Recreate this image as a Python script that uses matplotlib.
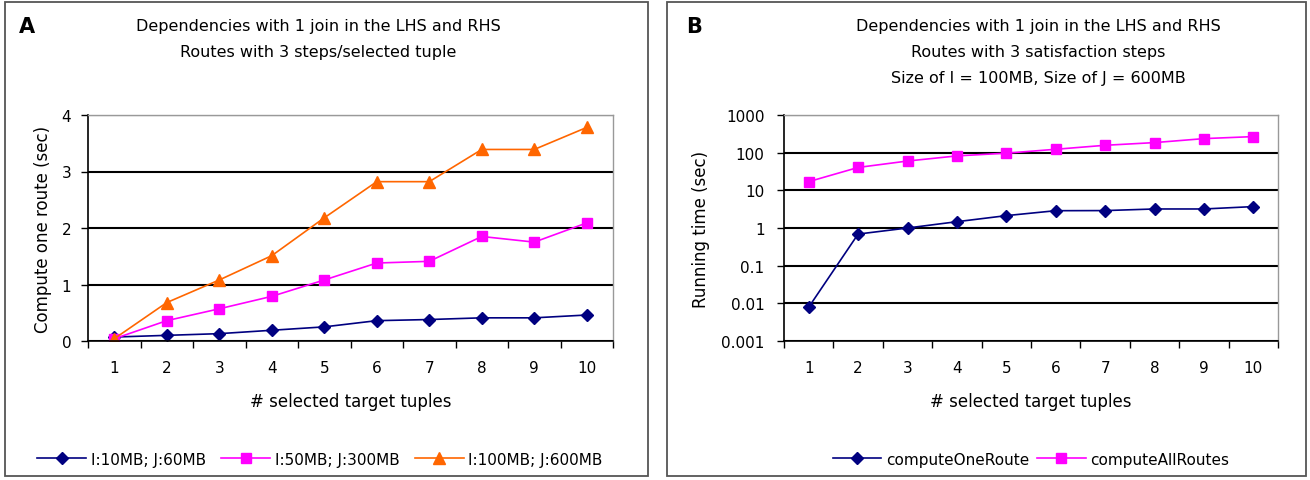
import matplotlib
matplotlib.use('Agg')
import matplotlib.pyplot as plt
from matplotlib.patches import Rectangle
from matplotlib.ticker import FixedLocator, NullLocator

plt.rcParams['font.family'] = ['DejaVu Sans']
plt.rcParams['font.size'] = 11

tuples = list(range(1, 11))

# panel A: compute one route (sec)
a_small = [0.07, 0.10, 0.13, 0.19, 0.25, 0.36, 0.38, 0.41, 0.41, 0.46]
a_medium = [0.04, 0.36, 0.57, 0.79, 1.08, 1.38, 1.41, 1.85, 1.75, 2.09]
a_large = [0.04, 0.68, 1.08, 1.51, 2.18, 2.82, 2.82, 3.39, 3.39, 3.78]
a_labels = ["I:10MB; J:60MB", "I:50MB; J:300MB", "I:100MB; J:600MB"]

# panel B: running time (sec), log scale
b_one = [0.0079, 0.69, 1.0, 1.47, 2.13, 2.88, 2.9, 3.2, 3.2, 3.7]
b_all = [17, 40.5, 60, 82, 97, 123, 157, 185, 236, 267]
b_labels = ["computeOneRoute", "computeAllRoutes"]

NAVY = '#000080'
MAGENTA = '#FF00FF'
ORANGE = '#FF6600'

W, H = 1310, 481
fig = plt.figure(figsize=(W / 100, H / 100), dpi=100)


def px(x0, y0, x1, y1):
    return [x0 / W, 1 - y1 / H, (x1 - x0) / W, (y1 - y0) / H]


def style_axes(ax, ypad):
    ax.set_xlim(0.5, 10.5)
    ax.xaxis.set_major_locator(FixedLocator(tuples))
    ax.xaxis.set_minor_locator(FixedLocator([i + 0.5 for i in range(0, 11)]))
    ax.tick_params(axis='x', which='major', length=0, pad=14, labelsize=11)
    ax.tick_params(axis='x', which='minor', length=5, width=1, direction='out')
    ax.tick_params(axis='y', which='major', length=5, width=1, direction='out',
                   pad=ypad, labelsize=11)
    ax.tick_params(axis='y', which='minor', length=0)
    ax.grid(axis='y', color='black', linewidth=1.5)
    ax.set_axisbelow(True)
    for s in ['top', 'right']:
        ax.spines[s].set_color('#999999')
        ax.spines[s].set_linewidth(1)
    for s in ['left', 'bottom']:
        ax.spines[s].set_color('black')
        ax.spines[s].set_linewidth(1.2)
    ax.set_xlabel("# selected target tuples", labelpad=12, fontsize=12)


# panel frames
for x0, x1 in [(5, 648), (667, 1306)]:
    fig.patches.append(Rectangle((x0 / W, 4 / H), (x1 - x0) / W, (478 - 4) / H,
                                 transform=fig.transFigure, fill=False,
                                 edgecolor='#555555', linewidth=1.3))

# ---- panel A ----
axA = fig.add_axes(px(88, 116, 613, 342))
axA.plot(tuples, a_small, color=NAVY, marker='D', markersize=6.5, lw=1.2, label=a_labels[0])
axA.plot(tuples, a_medium, color=MAGENTA, marker='s', markersize=7, lw=1.2, label=a_labels[1])
axA.plot(tuples, a_large, color=ORANGE, marker='^', markersize=8.5, lw=1.2, label=a_labels[2])
axA.set_ylim(0, 4)
axA.set_yticks([0, 1, 2, 3, 4])
style_axes(axA, 7)
axA.set_ylabel("Compute one route (sec)", labelpad=7, fontsize=12)
fig.text(27 / W, 1 - 27 / H, "A", fontsize=15, fontweight='bold', ha='center', va='center')
fig.text(318 / W, 1 - 26 / H, "Dependencies with 1 join in the LHS and RHS",
         ha='center', va='center', fontsize=11.5)
fig.text(318 / W, 1 - 52 / H, "Routes with 3 steps/selected tuple",
         ha='center', va='center', fontsize=11.5)
axA.legend(loc='center', bbox_to_anchor=(320 / W, 1 - 460 / H), bbox_transform=fig.transFigure,
           ncol=3, frameon=False, handlelength=3.2, columnspacing=1.0, handletextpad=0.3,
           fontsize=11)

# ---- panel B ----
axB = fig.add_axes(px(784, 116, 1278, 342))
axB.plot(tuples, b_one, color=NAVY, marker='D', markersize=6.5, lw=1.2, label=b_labels[0])
axB.plot(tuples, b_all, color=MAGENTA, marker='s', markersize=7, lw=1.2, label=b_labels[1])
axB.set_yscale('log')
axB.set_ylim(0.001, 1000)
b_ticks = [0.001, 0.01, 0.1, 1, 10, 100, 1000]
axB.yaxis.set_major_locator(FixedLocator(b_ticks))
axB.yaxis.set_minor_locator(NullLocator())
axB.set_yticklabels(["0.001", "0.01", "0.1", "1", "10", "100", "1000"])
style_axes(axB, 9)
axB.set_ylabel("Running time (sec)", labelpad=8, fontsize=12)
fig.text(694 / W, 1 - 27 / H, "B", fontsize=15, fontweight='bold', ha='center', va='center')
fig.text(1038 / W, 1 - 26 / H, "Dependencies with 1 join in the LHS and RHS",
         ha='center', va='center', fontsize=11.5)
fig.text(1038 / W, 1 - 52 / H, "Routes with 3 satisfaction steps",
         ha='center', va='center', fontsize=11.5)
fig.text(1038 / W, 1 - 78 / H, "Size of I = 100MB, Size of J = 600MB",
         ha='center', va='center', fontsize=11.5)
axB.legend(loc='center', bbox_to_anchor=(1031 / W, 1 - 460 / H), bbox_transform=fig.transFigure,
           ncol=2, frameon=False, handlelength=3.2, columnspacing=0.5, handletextpad=0.3,
           fontsize=11)

fig.savefig('out.png', dpi=100)
